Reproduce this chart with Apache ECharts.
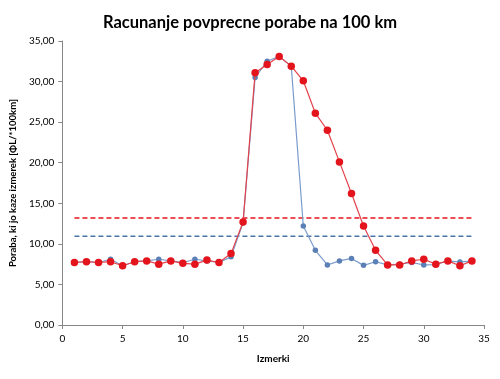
<!DOCTYPE html>
<html>
<head>
<meta charset="utf-8">
<script src="https://cdn.jsdelivr.net/npm/echarts@6/dist/echarts.min.js"></script>
<style>html,body{margin:0;padding:0;background:#fff}#c{width:500px;height:379px}</style>
</head>
<body>
<div id="c"></div>
<script>
var titleText = 'Racunanje povprecne porabe na 100 km';
var xName = 'Izmerki';
var yName = 'Poraba, ki jo kaze izmerek [ΦL/*100km]';
var measurements = [1,2,3,4,5,6,7,8,9,10,11,12,13,14,15,16,17,18,19,20,21,22,23,24,25,26,27,28,29,30,31,32,33,34];
var blueValues = [7.7,7.8,7.7,8.1,7.3,7.8,7.9,8.1,7.9,7.7,8.1,7.9,7.7,8.4,12.6,30.5,32.5,33.1,31.9,12.2,9.2,7.4,7.9,8.2,7.35,7.8,7.4,7.5,7.7,7.4,7.45,7.9,7.75,7.9];
var redValues = [7.7,7.8,7.7,7.8,7.3,7.8,7.9,7.5,7.9,7.6,7.5,8.0,7.7,8.8,12.7,31.1,32.1,33.1,31.9,30.1,26.1,24.0,20.1,16.2,12.2,9.2,7.4,7.4,7.9,8.1,7.5,7.9,7.3,7.9];
var blueAverage = 10.95;
var redAverage = 13.2;
var avgRange = [1, 34];

var chart = echarts.init(document.getElementById('c'), null, {renderer:'canvas'});
var font = 'Lato, "Open Sans", sans-serif';
function pairs(vals){ return measurements.map(function(x,i){ return [x, vals[i]]; }); }
function flat(v){ return avgRange.map(function(x){ return [x, v]; }); }
chart.setOption({
  animation:false,
  backgroundColor:'#fff',
  title:{text:titleText,left:'center',top:9,textStyle:{fontFamily:font,fontSize:16.5,fontWeight:'bold',color:'#000'}},
  grid:{left:62,right:16,top:41,bottom:54},
  xAxis:{type:'value',min:0,max:35,interval:5,name:xName,nameLocation:'middle',nameGap:29,
    nameTextStyle:{fontFamily:font,fontSize:10,fontWeight:'bold',color:'#000'},
    axisLine:{lineStyle:{color:'#868686'}},axisTick:{show:true,length:4,lineStyle:{color:'#868686'}},
    axisLabel:{fontFamily:font,fontSize:10,color:'#000',margin:9},splitLine:{show:false}},
  yAxis:{type:'value',min:0,max:35,interval:5,name:yName,nameLocation:'middle',nameGap:41,
    nameTextStyle:{fontFamily:font,fontSize:9.5,fontWeight:'bold',color:'#000'},
    axisLine:{show:true,lineStyle:{color:'#868686'}},axisTick:{show:true,length:4,lineStyle:{color:'#868686'}},
    axisLabel:{fontFamily:font,fontSize:10,color:'#000',margin:8,formatter:function(v){return v.toFixed(2).replace('.',',');}},
    splitLine:{show:false}},
  series:[
    {type:'line',data:flat(redAverage),symbol:'none',lineStyle:{color:'#e3141c',width:1.5,type:[5,3]},z:1},
    {type:'line',data:flat(blueAverage),symbol:'none',lineStyle:{color:'#4a72a8',width:1.5,type:[5,3]},z:1},
    {type:'line',data:pairs(blueValues),symbol:'circle',symbolSize:5.5,lineStyle:{color:'#7a9ccc',width:1.2},itemStyle:{color:'#5b80b6'},z:2},
    {type:'line',data:pairs(redValues),symbol:'circle',symbolSize:7.5,lineStyle:{color:'#e3424a',width:1.2},itemStyle:{color:'#e3141c'},z:3}
  ]
});
</script>
</body>
</html>
